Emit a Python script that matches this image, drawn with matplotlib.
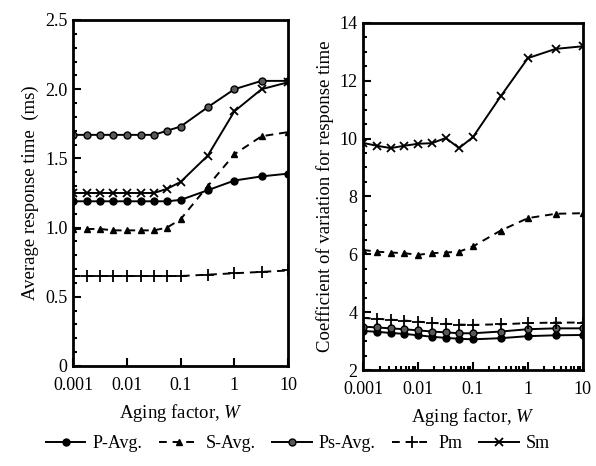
import matplotlib
matplotlib.use('Agg')
import numpy as np
import matplotlib.pyplot as plt
from matplotlib.ticker import (MultipleLocator, FixedLocator, LogLocator,
                               NullFormatter, FuncFormatter)

plt.rcParams['font.family'] = ['Liberation Serif', 'DejaVu Serif']
plt.rcParams['mathtext.fontset'] = 'custom'
plt.rcParams['mathtext.it'] = 'Liberation Serif:italic'
plt.rcParams['mathtext.rm'] = 'Liberation Serif'

# aging factor W
w = [0.001, 0.0018, 0.0032, 0.0056, 0.01, 0.018, 0.032, 0.056, 0.1, 0.32, 1, 3.2, 10]

# average response time (ms)
avg_p = [1.19, 1.19, 1.19, 1.19, 1.19, 1.19, 1.19, 1.19, 1.20, 1.27, 1.34, 1.37, 1.39]
avg_s = [0.99, 0.99, 0.99, 0.98, 0.98, 0.98, 0.98, 1.00, 1.06, 1.30, 1.53, 1.66, 1.69]
avg_ps = [1.67, 1.67, 1.67, 1.67, 1.67, 1.67, 1.67, 1.70, 1.73, 1.87, 2.00, 2.06, 2.06]
avg_pm = [0.65, 0.65, 0.65, 0.65, 0.65, 0.65, 0.65, 0.65, 0.65, 0.66, 0.67, 0.68, 0.69]
avg_sm = [1.25, 1.25, 1.25, 1.25, 1.25, 1.25, 1.25, 1.28, 1.33, 1.52, 1.84, 2.00, 2.05]

# coefficient of variation
cv_p = [3.35, 3.32, 3.28, 3.25, 3.20, 3.15, 3.11, 3.08, 3.06, 3.10, 3.17, 3.20, 3.21]
cv_s = [6.15, 6.09, 6.06, 6.04, 5.98, 6.04, 6.06, 6.09, 6.27, 6.82, 7.25, 7.40, 7.42]
cv_ps = [3.50, 3.47, 3.44, 3.41, 3.37, 3.33, 3.30, 3.27, 3.27, 3.33, 3.41, 3.44, 3.44]
cv_pm = [3.80, 3.77, 3.74, 3.71, 3.67, 3.63, 3.60, 3.57, 3.56, 3.58, 3.62, 3.64, 3.64]
cv_sm = [9.85, 9.75, 9.67, 9.75, 9.82, 9.84, 10.02, 9.67, 10.05, 11.46, 12.78, 13.10, 13.19]

tick_w = [0.001, 0.01, 0.1, 1, 10]
tick_w_labels = ['0.001', '0.01', '0.1', '1', '10']

fig = plt.figure(figsize=(5.96, 4.66), dpi=100)
ax1 = fig.add_axes([0.1225, 0.2146, 0.361, 0.7425])
ax2 = fig.add_axes([0.609, 0.206, 0.369, 0.745])


def draw(ax, p, s, ps, pm, sm):
    kw = dict(color='black', lw=1.4)
    ax.plot(w, p, marker='o', ms=5, label='P-Avg.', **kw)
    ax.plot(w, s, marker='^', ms=5, ls=(0, (4, 3)), label='S-Avg.', **kw)
    ax.plot(w, ps, marker='o', ms=5, mfc='0.35', label='Ps-Avg.', **kw)
    ax.plot(w, pm, marker='+', ms=8, mew=1.3, ls=(0, (4, 3)), label='Pm', **kw)
    ax.plot(w, sm, marker='x', ms=6, mew=1.3, label='Sm', **kw)
    ax.set_xscale('log')
    ax.set_xlim(0.001, 10)
    ax.xaxis.set_major_locator(FixedLocator(tick_w))
    ax.set_xticklabels(tick_w_labels)
    ax.xaxis.set_minor_locator(LogLocator(base=10, subs=np.arange(2, 10)))
    ax.xaxis.set_minor_formatter(NullFormatter())
    ax.tick_params(which='both', direction='in', top=False, right=False,
                   labelsize=13, width=1.5)
    ax.tick_params(which='major', length=6, pad=4)
    ax.tick_params(axis='x', which='major', pad=8)
    ax.tick_params(which='minor', length=3)
    for sp in ax.spines.values():
        sp.set_linewidth(2)
    ax.set_xlabel('Aging factor, $W$', fontsize=13.5, labelpad=6)


draw(ax1, avg_p, avg_s, avg_ps, avg_pm, avg_sm)
ax1.set_ylim(0, 2.5)
ax1.yaxis.set_major_locator(MultipleLocator(0.5))
ax1.yaxis.set_minor_locator(MultipleLocator(0.1))
ax1.yaxis.set_major_formatter(FuncFormatter(lambda v, _: '0' if abs(v) < 1e-9 else f'{v:.1f}'))
ax1.set_ylabel('Average response time  (ms)', fontsize=13.5, labelpad=4)

draw(ax2, cv_p, cv_s, cv_ps, cv_pm, cv_sm)
ax2.set_ylim(2, 14)
ax2.yaxis.set_major_locator(MultipleLocator(2))
ax2.yaxis.set_minor_locator(MultipleLocator(0.5))
ax2.yaxis.set_major_formatter(FuncFormatter(lambda v, _: f'{v:.0f}'))
ax2.set_ylabel('Coefficient of variation for response time', fontsize=13.5, labelpad=4)

handles, labels = ax1.get_legend_handles_labels()
fig.legend(handles, labels, loc='lower center', bbox_to_anchor=(0.5, -0.005),
           ncol=5, frameon=False, fontsize=13, handlelength=2.2,
           handletextpad=0.4, columnspacing=0.9)

fig.savefig('out.png', dpi=100)
